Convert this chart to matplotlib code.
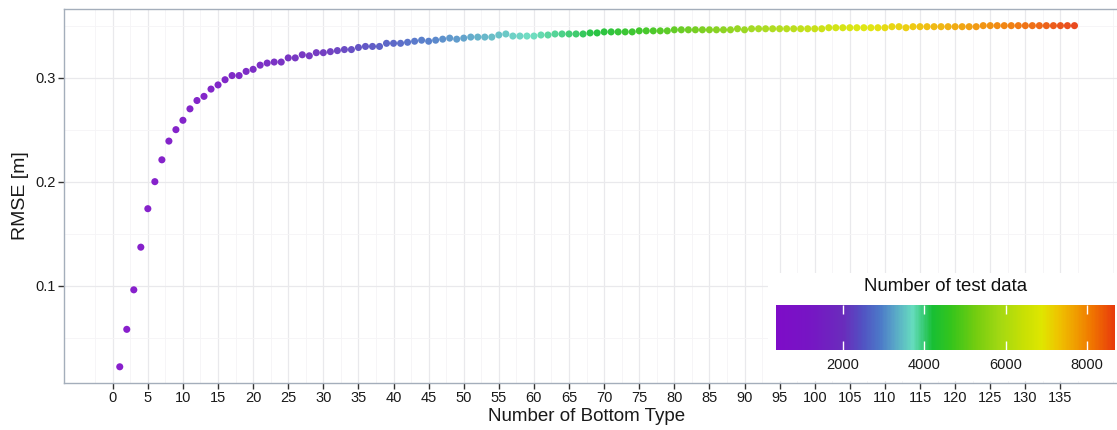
import matplotlib
matplotlib.use("Agg")
import matplotlib.pyplot as plt
from matplotlib.colors import LinearSegmentedColormap, Normalize
from matplotlib.ticker import FixedLocator

plt.rcParams["font.family"] = ["Liberation Sans", "DejaVu Sans"]

# ---- data -------------------------------------------------------------
bottom_type = list(range(1, 138))

rmse = [
    0.022, 0.058, 0.096, 0.137, 0.174, 0.200, 0.221, 0.239, 0.250, 0.259,
    0.270, 0.278, 0.282, 0.289, 0.293, 0.298, 0.302, 0.302, 0.306, 0.308,
    0.312, 0.314, 0.315, 0.315, 0.319, 0.319, 0.322, 0.321, 0.324, 0.324,
    0.325, 0.326, 0.327, 0.327, 0.329, 0.330, 0.330, 0.330, 0.333, 0.333,
    0.333, 0.334, 0.335, 0.336, 0.335, 0.336, 0.337, 0.338, 0.337, 0.338,
    0.339, 0.339, 0.339, 0.339, 0.341, 0.342, 0.340, 0.340, 0.340, 0.340,
    0.341, 0.341, 0.342, 0.342, 0.342, 0.342, 0.342, 0.343, 0.343, 0.344,
    0.344, 0.344, 0.344, 0.344, 0.345, 0.345, 0.345, 0.345, 0.345, 0.346,
    0.346, 0.346, 0.346, 0.346, 0.346, 0.346, 0.346, 0.346, 0.347, 0.346,
    0.347, 0.347, 0.347, 0.347, 0.347, 0.347, 0.347, 0.347, 0.347, 0.347,
    0.347, 0.348, 0.348, 0.348, 0.348, 0.348, 0.348, 0.348, 0.348, 0.348,
    0.349, 0.349, 0.348, 0.349, 0.349, 0.349, 0.349, 0.349, 0.349, 0.349,
    0.349, 0.349, 0.349, 0.350, 0.350, 0.350, 0.350, 0.350, 0.350, 0.350,
    0.350, 0.350, 0.350, 0.350, 0.350, 0.350, 0.350,
]

n_test = [
    340, 400, 455, 515, 575, 630, 690, 750, 810, 870,
    925, 985, 1045, 1100, 1160, 1220, 1275, 1335, 1395, 1450,
    1510, 1570, 1630, 1690, 1745, 1805, 1865, 1920, 1980, 2040,
    2095, 2155, 2215, 2270, 2330, 2390, 2445, 2505, 2565, 2620,
    2680, 2740, 2795, 2855, 2915, 2970, 3030, 3090, 3145, 3200,
    3255, 3310, 3360, 3415, 3470, 3520, 3575, 3625, 3680, 3730,
    3785, 3835, 3890, 3945, 4000, 4050, 4105, 4160, 4215, 4280,
    4350, 4420, 4490, 4560, 4635, 4705, 4775, 4845, 4915, 4985,
    5055, 5125, 5195, 5265, 5335, 5405, 5475, 5545, 5615, 5685,
    5755, 5825, 5895, 5965, 6035, 6105, 6175, 6245, 6315, 6385,
    6455, 6525, 6595, 6665, 6735, 6795, 6855, 6915, 6975, 7035,
    7095, 7155, 7215, 7275, 7335, 7395, 7455, 7515, 7575, 7635,
    7695, 7755, 7815, 7875, 7935, 7995, 8055, 8115, 8175, 8235,
    8295, 8355, 8415, 8475, 8535, 8595, 8690,
]

x_ticks = list(range(0, 140, 5))
y_ticks = [0.1, 0.2, 0.3]
cbar_ticks = [2000, 4000, 6000, 8000]

# ---- colour scale -----------------------------------------------------
vmin, vmax = min(n_test), max(n_test)
stops = [
    (340, "#7e0cc8"), (1200, "#7616c4"), (2000, "#6a2cbc"), (2450, "#5250c2"),
    (2900, "#4c78c8"), (3250, "#58a4c8"), (3700, "#66dcbe"), (3950, "#3ccc7c"),
    (4200, "#18bf34"), (4650, "#34c41c"), (5250, "#72cc10"), (5850, "#a2d812"),
    (6450, "#c8e004"), (6900, "#dfe600"), (7300, "#eec400"), (7700, "#f0a000"),
    (8150, "#f07400"), (8690, "#e83a0c"),
]
cmap = LinearSegmentedColormap.from_list(
    "testdata", [((v - vmin) / (vmax - vmin), c) for v, c in stops])
norm = Normalize(vmin=vmin, vmax=vmax)

# ---- figure -----------------------------------------------------------
W, H = 1117, 430
fig = plt.figure(figsize=(W / 100, H / 100), dpi=100)
fig.patch.set_facecolor("white")

ax_l, ax_r, ax_b, ax_t = 64.3, 1123.6, 382.7, 9.0
ax = fig.add_axes([ax_l / W, 1 - ax_b / H, (ax_r - ax_l) / W, (ax_b - ax_t) / H])
ax.set_xlim(-6.9, 144.0)
ax.set_ylim(0.0067, 0.366)

ax.xaxis.set_major_locator(FixedLocator(x_ticks))
ax.yaxis.set_major_locator(FixedLocator(y_ticks))
ax.xaxis.set_minor_locator(FixedLocator([t + 2.5 for t in range(-5, 145, 5)]))
ax.yaxis.set_minor_locator(FixedLocator([0.05, 0.15, 0.25, 0.35]))
ax.set_xticklabels([str(t) for t in x_ticks])
ax.set_yticklabels([f"{t:.1f}" for t in y_ticks])

ax.grid(which="major", color="#e9e9ec", lw=0.9)
ax.grid(which="minor", color="#f5f4f6", lw=0.6)
ax.set_axisbelow(True)

for s in ax.spines.values():
    s.set_color("#a4aebb")
    s.set_linewidth(1.0)

ax.tick_params(which="major", direction="out", length=4, width=1.0,
               color="#333333", labelsize=10.5, labelcolor="#1a1a1a", pad=2)
ax.tick_params(which="minor", length=0)

sc = ax.scatter(bottom_type, rmse, c=n_test, cmap=cmap, norm=norm,
                s=26, linewidths=0, alpha=0.92, zorder=3)

ax.set_ylabel("RMSE [m]", fontsize=14, color="#1a1a1a", labelpad=5)
ax.set_xlabel("Number of Bottom Type", fontsize=13.5, color="#1a1a1a")
ax.xaxis.set_label_coords((587 - ax_l) / (ax_r - ax_l), -0.068)

# ---- legend: colour bar on a white box ---------------------------------
bg = fig.add_axes([768 / W, 1 - 381 / H, (W - 768) / W + 0.01, (381 - 273) / H])
bg.set_facecolor("white")
for s in bg.spines.values():
    s.set_visible(False)
bg.set_xticks([])
bg.set_yticks([])

cb_l, cb_r, cb_t, cb_b = 775.7, 1115.0, 305.0, 350.0
cax = fig.add_axes([cb_l / W, 1 - cb_b / H, (cb_r - cb_l) / W, (cb_b - cb_t) / H])
cbar = fig.colorbar(sc, cax=cax, orientation="horizontal")
cbar.solids.set_alpha(1)
cbar.outline.set_visible(False)
cbar.set_ticks(cbar_ticks)
cbar.set_ticklabels([str(t) for t in cbar_ticks])
cax.tick_params(length=0, labelsize=10.5, labelcolor="#1a1a1a", pad=6)
cax.vlines(cbar_ticks, 0.0, 0.2, colors="white", lw=1.0)
cax.vlines(cbar_ticks, 0.8, 1.0, colors="white", lw=1.0)

fig.text((cb_l + cb_r) / 2 / W, 1 - 286.7 / H, "Number of test data",
         ha="center", va="center", fontsize=13.4, color="#111111")

fig.savefig("out.png", dpi=100, facecolor="white")
